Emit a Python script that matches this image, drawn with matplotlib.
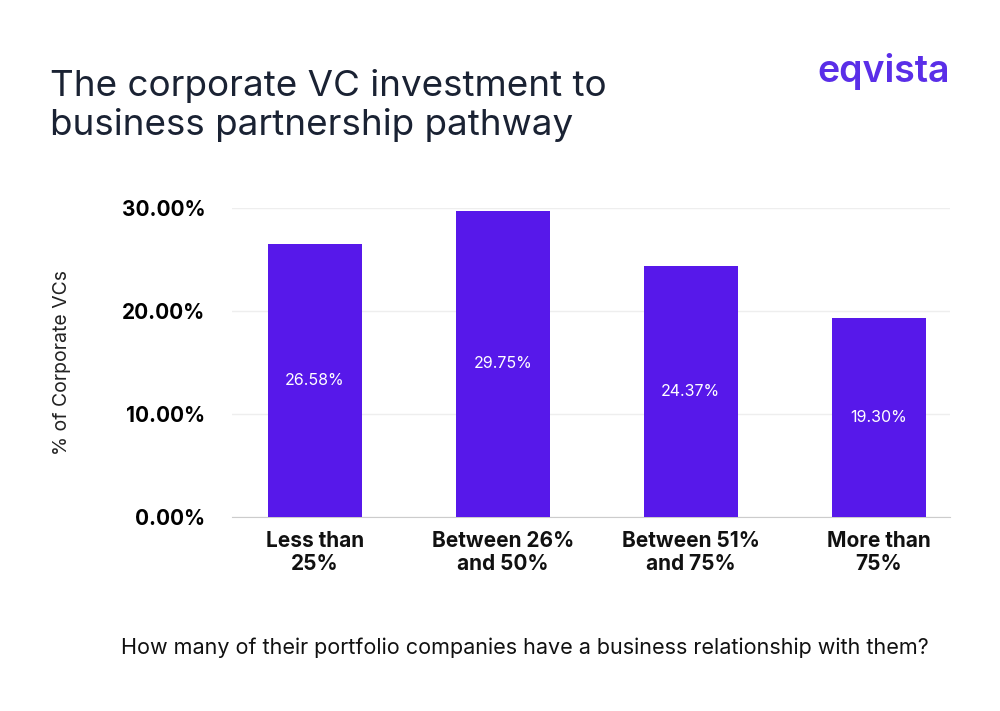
import matplotlib
matplotlib.use('Agg')
import matplotlib.pyplot as plt
from matplotlib.ticker import FuncFormatter

plt.rcParams['font.family'] = ['Inter', 'DejaVu Sans']

categories = ['Less than\n25%', 'Between 26%\nand 50%', 'Between 51%\nand 75%', 'More than\n75%']
values = [26.58, 29.75, 24.37, 19.30]
bar_color = '#5718EA'

fig = plt.figure(figsize=(10, 7.11), dpi=100)
ax = fig.add_axes([0.232, 0.273, 0.718, 0.434])

bars = ax.bar(range(len(values)), values, width=0.5, color=bar_color, zorder=3)
for bar, v in zip(bars, values):
    ax.text(bar.get_x() + bar.get_width() / 2, v / 2, f'{v:.2f}%',
            ha='center', va='center', color='white', fontsize=11.5)

ax.set_ylim(0, 30)
ax.set_xlim(-0.44, 3.38)
ax.set_yticks([0, 10, 20, 30])
ax.yaxis.set_major_formatter(FuncFormatter(lambda y, p: f'{y:.2f}%'))
ax.grid(axis='y', color='#eeeeee', linewidth=1, zorder=0)
ax.set_xticks(range(len(categories)))
ax.set_xticklabels(categories, fontsize=15, fontweight='bold', color='#111111')
ax.tick_params(axis='y', labelsize=15, length=0, pad=19)
ax.tick_params(axis='x', length=0, pad=10)
for lbl in ax.get_yticklabels():
    lbl.set_fontweight('bold')
for s in ['top', 'right', 'left']:
    ax.spines[s].set_visible(False)
ax.spines['bottom'].set_color('#cccccc')
ax.set_ylabel('% of Corporate VCs', fontsize=14, labelpad=37, color='#222222')

fig.text(0.05, 0.80, 'The corporate VC investment to\nbusiness partnership pathway',
         fontsize=26.5, color='#1a2233', va='bottom', linespacing=1.2)
fig.text(0.95, 0.90, 'eqvista', fontsize=27, fontweight='semibold', color='#5a2ee8',
         ha='right', va='center')
fig.text(0.525, 0.08, 'How many of their portfolio companies have a business relationship with them?',
         fontsize=15.5, ha='center', color='#111111')

fig.savefig('out.png', dpi=100)
